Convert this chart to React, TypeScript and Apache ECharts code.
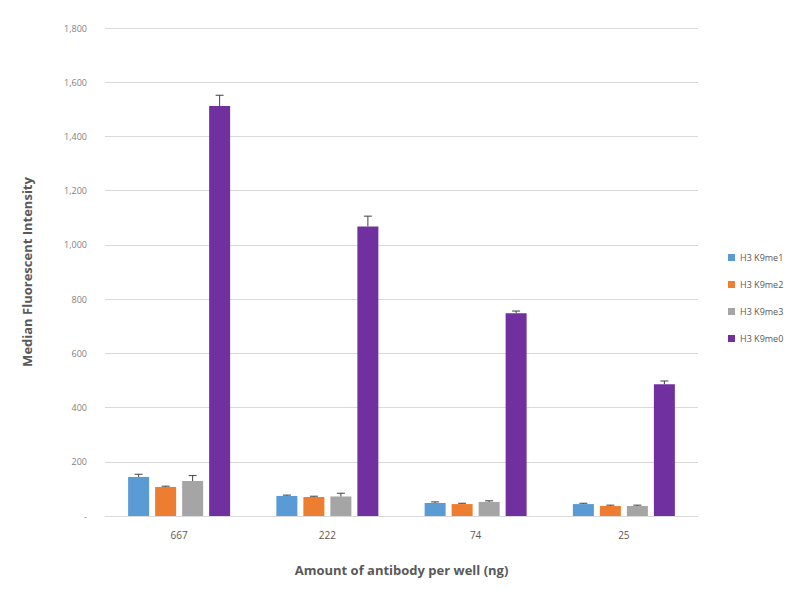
import React, { useEffect, useRef } from "react";
import * as echarts from "echarts";

const categories = ["667", "222", "74", "25"];
const seriesNames = ["H3 K9me1", "H3 K9me2", "H3 K9me3", "H3 K9me0"];
const me1 = [144, 74, 48, 44];
const me2 = [107, 70, 44, 37];
const me3 = [129, 72, 52, 37];
const me0 = [1512, 1068, 748, 486];
const err1 = [10, 3, 4, 3];
const err2 = [3, 3, 3, 3];
const err3 = [20, 12, 4, 3];
const err0 = [40, 38, 8, 12];

const colors = ["#5B9BD5", "#ED7D31", "#A5A5A5", "#7030A0"];
const BAR_W = 21;
const BAR_GAP = 6;

export default function App() {
  const ref = useRef<HTMLDivElement>(null);
  useEffect(() => {
    if (!ref.current) return;
    const chart = echarts.init(ref.current, undefined, { renderer: "svg" });
    const values = [me1, me2, me3, me0];
    const errs = [err1, err2, err3, err0];

    const barSeries = values.map((v, i) => ({
      name: seriesNames[i],
      type: "bar",
      data: v,
      barWidth: BAR_W,
      barGap: (BAR_GAP / BAR_W) * 100 + "%",
      itemStyle: { color: colors[i] },
      z: 2,
    }));

    const errSeries = values.map((v, i) => ({
      type: "custom",
      name: seriesNames[i] + " err",
      data: v.map((val, k) => [k, val, errs[i][k]]),
      z: 5,
      silent: true,
      tooltip: { show: false },
      encode: { x: 0, y: 1 },
      renderItem: (params: any, api: any) => {
        const k = api.value(0);
        const val = api.value(1);
        const e = api.value(2);
        const base = api.coord([k, val]);
        const top = api.coord([k, val + e]);
        const off = (i - 1.5) * (BAR_W + BAR_GAP);
        const x = base[0] + off;
        const cap = 4;
        const st = { stroke: "#404040", lineWidth: 1 };
        return {
          type: "group",
          children: [
            { type: "line", shape: { x1: x, y1: base[1], x2: x, y2: top[1] }, style: st },
            { type: "line", shape: { x1: x - cap, y1: top[1], x2: x + cap, y2: top[1] }, style: st },
          ],
        };
      },
    }));

    chart.setOption({
      animation: false,
      backgroundColor: "#ffffff",
      grid: { left: 105, right: 102, top: 28, bottom: 84 },
      legend: {
        orient: "vertical",
        left: 723,
        top: 248,
        itemWidth: 7,
        itemHeight: 7,
        itemGap: 18,
        icon: "rect",
        data: seriesNames,
        textStyle: { fontSize: 9, color: "#595959", fontFamily: "Open Sans" },
      },
      xAxis: {
        type: "category",
        data: categories,
        name: "Amount of antibody per well (ng)",
        nameLocation: "middle",
        nameGap: 47,
        nameTextStyle: { fontSize: 13, fontWeight: "bold", color: "#595959", fontFamily: "Open Sans" },
        axisLine: { lineStyle: { color: "#D9D9D9" } },
        axisTick: { show: false },
        axisLabel: { fontSize: 10, color: "#595959", margin: 14, fontFamily: "Open Sans" },
      },
      yAxis: {
        type: "value",
        min: 0,
        max: 1800,
        interval: 200,
        name: "Median Fluorescent Intensity",
        nameLocation: "middle",
        nameGap: 72,
        nameTextStyle: { fontSize: 13, fontWeight: "bold", color: "#595959", fontFamily: "Open Sans" },
        axisLine: { show: false },
        axisTick: { show: false },
        splitLine: { lineStyle: { color: "#D9D9D9" } },
        axisLabel: {
          fontSize: 9,
          color: "#7F7F7F",
          margin: 18,
          fontFamily: "Open Sans",
          formatter: (v: number) => (v === 0 ? "-" : v.toLocaleString("en-US")),
        },
      },
      series: [...barSeries, ...errSeries],
    });
    return () => chart.dispose();
  }, []);
  return <div ref={ref} style={{ width: 800, height: 600, position: "absolute", left: 0, top: 0 }} />;
}
